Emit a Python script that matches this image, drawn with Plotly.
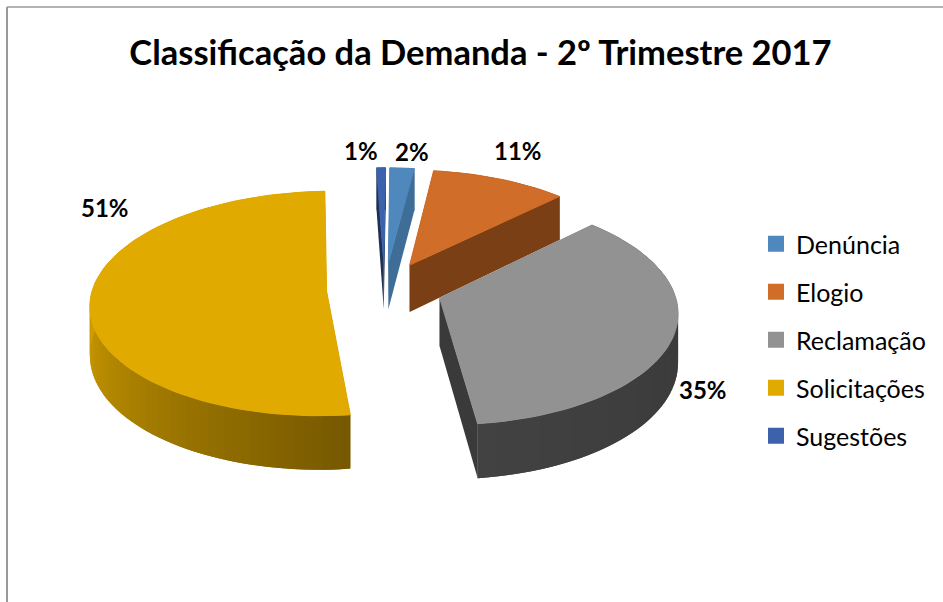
import math
import plotly.graph_objects as go

# ---- data ----
categories = ["Denúncia", "Elogio", "Reclamação", "Solicitações", "Sugestões"]
values = [1.9, 10.6, 35.49, 51.31, 0.7]
title_text = "Classificação da Demanda - 2º Trimestre 2017"

# ---- styles ----
cap_colors = ["#4F88BC", "#D06D28", "#929292", "#E1AA00", "#3C62AC"]
wall_left = ["#3E6D97", "#7B3F16", "#424242", "#D09D00", "#1E3153"]
wall_right = ["#3E6D97", "#7B3F16", "#393939", "#755800", "#1E3153"]
face_colors = ["#3E6D97", "#7B3F16", "#3A3A3A", "#755800", "#1E3153"]
draw_order = [4, 0, 1, 3, 2]
label_xy = [(412, 151), (518, 150), (703, 389), (105, 207), (361, 150)]

# ---- projection of the exploded, tilted pie ----
CX, CY = 384.5, 289
R, TILT, PERSP, EXPLODE, DEPTH = 234, 0.472, 0.11, 58, 48
ROTATE = 0.5


def project(theta_deg, radius, mid_deg):
    t, m = math.radians(theta_deg), math.radians(mid_deg)
    X = radius * math.sin(t) + EXPLODE * math.sin(m)
    Z = radius * math.cos(t) + EXPLODE * math.cos(m)
    s = 1 / (1 + PERSP * Z / R)
    return CX + X * s, CY - R * TILT * (Z / R) * s, s


def lerp_color(a, b, t):
    ca = [int(a[i:i + 2], 16) for i in (1, 3, 5)]
    cb = [int(b[i:i + 2], 16) for i in (1, 3, 5)]
    return "rgb(%d,%d,%d)" % tuple(round(p + (q - p) * t) for p, q in zip(ca, cb))


def poly(points, color, edge=0.0):
    xs = [p[0] for p in points] + [points[0][0]]
    ys = [p[1] for p in points] + [points[0][1]]
    return go.Scatter(x=xs, y=ys, mode="lines", fill="toself", fillcolor=color,
                      line=dict(color=color, width=edge), showlegend=False, hoverinfo="skip")


total = sum(values)
spans = []
acc = 0
for v in values:
    a0 = acc / total * 360 + ROTATE
    acc += v
    spans.append((a0, acc / total * 360 + ROTATE))

fig = go.Figure()
for i in draw_order:
    a0, a1 = spans[i]
    mid = (a0 + a1) / 2
    steps = max(2, int((a1 - a0) / 2))
    angles = [a0 + (a1 - a0) * k / steps for k in range(steps + 1)]
    rim = [project(a, R, mid) for a in angles]
    apex = project(mid, 0, mid)
    down = lambda p: (p[0], p[1] + DEPTH * p[2])
    # inner cut faces
    for edge in (rim[0], rim[-1]):
        fig.add_trace(poly([edge[:2], down(edge), down(apex), apex[:2]], face_colors[i]))
    # outer wall, shaded along the arc; each band runs under the next one so no seams show
    lo, hi = max(a0, 90), min(a1, 270)
    for k in range(steps):
        t = 0 if hi <= lo else min(1, max(0, ((angles[k] + angles[k + 1]) / 2 - lo) / (hi - lo)))
        col = lerp_color(wall_right[i], wall_left[i], t)
        p, q = rim[k], rim[min(k + 2, steps)]
        fig.add_trace(poly([p[:2], rim[min(k + 1, steps)][:2], q[:2], down(q), down(rim[min(k + 1, steps)]), down(p)], col))
    # top cap
    fig.add_trace(poly([apex[:2]] + [r[:2] for r in rim], cap_colors[i], 1.0))

for name, col in zip(categories, cap_colors):
    fig.add_trace(go.Scatter(x=[None], y=[None], mode="markers", name=name, legendgroup=name,
                             marker=dict(symbol="square", size=16, color=col)))

annotations = [dict(x=x, y=y, xref="x", yref="y", text=f"<b>{round(v)}%</b>", showarrow=False,
                    font=dict(family="Lato", size=24, color="#000000"))
               for v, (x, y) in zip(values, label_xy)]

shapes = [
    dict(type="line", xref="x", yref="y", x0=7, x1=7, y0=7, y1=602, line=dict(color="#9a9a9a", width=2)),
    dict(type="line", xref="x", yref="y", x0=7, x1=943, y0=7, y1=7, line=dict(color="#9a9a9a", width=1.5)),
]

fig.update_layout(
    width=943, height=602, margin=dict(l=0, r=0, t=0, b=0),
    paper_bgcolor="#ffffff", plot_bgcolor="#ffffff",
    xaxis=dict(range=[0, 943], visible=False, domain=[0, 1]),
    yaxis=dict(range=[602, 0], visible=False, domain=[0, 1]),
    title=dict(text=f"<b>{title_text}</b>", x=480.5 / 943, xanchor="center", y=1 - 53 / 602, yanchor="middle",
               font=dict(family="Lato", size=34.5, color="#000000")),
    legend=dict(x=756 / 943, xanchor="left", y=1 - 221 / 602, yanchor="top", tracegroupgap=12.5,
                itemwidth=30, bgcolor="rgba(0,0,0,0)",
                font=dict(family="Lato", size=25, color="#000000")),
    annotations=annotations, shapes=shapes, showlegend=True,
)
fig.write_html("out.html", config=dict(displayModeBar=False), post_script="document.body.style.margin='0';")
